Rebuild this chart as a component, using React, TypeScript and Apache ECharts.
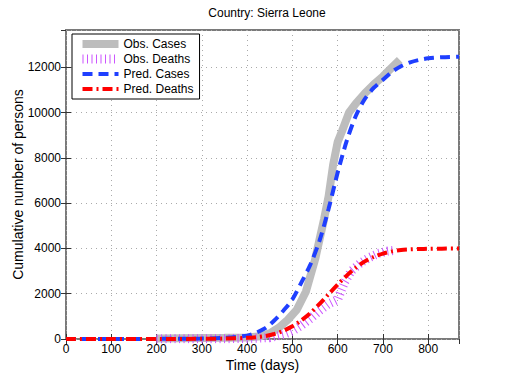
import React, { useEffect, useRef } from "react";
import * as echarts from "echarts";

const predDays = [0, 100, 200, 300, 350, 400, 420, 440, 460, 480, 500, 520, 540, 560, 580, 600, 620, 640, 660, 680, 700, 720, 740, 760, 780, 800, 830, 868];
const predCases = [0, 0, 5, 20, 50, 150, 280, 480, 820, 1250, 1750, 2500, 3300, 4350, 5750, 7350, 8750, 9850, 10600, 11100, 11450, 11800, 12050, 12220, 12330, 12400, 12450, 12470];
const predDeaths = [0, 0, 2, 8, 20, 50, 80, 130, 220, 360, 560, 830, 1150, 1550, 1980, 2400, 2800, 3150, 3430, 3630, 3770, 3870, 3930, 3960, 3975, 3985, 3992, 3995];

const obsCaseDays = [200, 250, 300, 350, 400, 430, 450, 470, 490, 510, 530, 550, 560, 570, 580, 590, 600, 610, 625, 640, 660, 680, 700, 720, 737];
const obsCases = [20, 30, 40, 50, 70, 120, 250, 500, 850, 1300, 2100, 3500, 4400, 5300, 6300, 7700, 8700, 9200, 10000, 10400, 10850, 11250, 11600, 12000, 12330];

const obsDeathDays = [200, 300, 400, 450, 480, 500, 520, 540, 560, 580, 590, 600, 605, 615, 630, 650, 670, 690, 710, 727];
const obsDeaths = [5, 10, 20, 60, 200, 350, 600, 900, 1250, 1550, 1650, 1750, 2000, 2500, 3000, 3350, 3600, 3780, 3880, 3920];

const xTicks = { min: 0, max: 868, interval: 100 };
const yTicks = { min: 0, max: 13650, interval: 2000 };

const pairs = (xs: number[], ys: number[]) => xs.map((x, i) => [x, ys[i]]);

const FONT = "'Liberation Sans', Arial, Helvetica, sans-serif";

const styles = {
  obsCases: { color: "#bdbdbd", width: 8, type: "solid" as any },
  obsDeaths: { color: "#cc55ff", width: 9, type: [1, 3.5] as any, cap: "butt" as any },
  predCases: { color: "#1f3fff", width: 4, type: [10, 6] as any },
  predDeaths: { color: "#ff0000", width: 4, type: [10, 4, 2, 4] as any },
};

export default function App() {
  const ref = useRef<HTMLDivElement>(null);
  useEffect(() => {
    if (!ref.current) return;
    const chart = echarts.init(ref.current, undefined, { renderer: "svg" });
    const split = { show: true, lineStyle: { color: "#aaa", type: [1, 4] as any, width: 1 } };
    const tick = { show: true, inside: true, length: 5, lineStyle: { color: "#333", width: 1 } };
    chart.setOption({
      animation: false,
      backgroundColor: "#fff",
      textStyle: { fontFamily: FONT },
      title: {
        text: "Country: Sierra Leone",
        left: 262,
        textAlign: "center",
        top: 2,
        textStyle: { fontSize: 12, fontWeight: "normal", color: "#000", fontFamily: FONT },
      },
      grid: {
        left: 66, top: 30, width: 393, height: 309,
        outerBoundsMode: "none", containLabel: false,
        show: true, borderColor: "#7a7a7a", borderWidth: 2, backgroundColor: "transparent",
      },
      legend: {
        left: 72, top: 34, orient: "vertical",
        backgroundColor: "#fff", borderColor: "#000", borderWidth: 1,
        padding: [4, 6, 4, 6], itemGap: 3, itemWidth: 36, itemHeight: 12,
        itemStyle: { opacity: 0 },
        textStyle: { fontSize: 12, color: "#000", fontFamily: FONT },
        data: [
          { name: "Obs. Cases", lineStyle: styles.obsCases },
          { name: "Obs. Deaths", lineStyle: styles.obsDeaths },
          { name: "Pred. Cases", lineStyle: styles.predCases },
          { name: "Pred. Deaths", lineStyle: styles.predDeaths },
        ],
      },
      xAxis: [
        {
          type: "value", min: xTicks.min, max: xTicks.max, interval: xTicks.interval,
          name: "Time (days)", nameLocation: "middle", nameGap: 19, nameMoveOverlap: false,
          nameTextStyle: { fontSize: 14, color: "#000", fontFamily: FONT },
          axisLine: { show: false }, axisTick: tick,
          axisLabel: { fontSize: 12, color: "#000", margin: 4, showMaxLabel: false, fontFamily: FONT },
          splitLine: split,
        },
        {
          type: "value", position: "top", min: xTicks.min, max: xTicks.max, interval: xTicks.interval,
          axisLine: { show: false }, axisTick: tick, axisLabel: { show: false }, splitLine: { show: false },
        },
      ],
      yAxis: [
        {
          type: "value", min: yTicks.min, max: yTicks.max, interval: yTicks.interval,
          name: "Cumulative number of persons", nameLocation: "middle", nameGap: 41, nameMoveOverlap: false,
          nameTextStyle: { fontSize: 14, color: "#000", fontFamily: FONT },
          axisLine: { show: false }, axisTick: tick,
          axisLabel: {
            fontSize: 12, color: "#000", margin: 5, showMaxLabel: false, fontFamily: FONT,
            formatter: (v: number) => String(v),
          },
          splitLine: split,
        },
        {
          type: "value", position: "right", min: yTicks.min, max: yTicks.max, interval: yTicks.interval,
          axisLine: { show: false }, axisTick: tick, axisLabel: { show: false }, splitLine: { show: false },
        },
      ],
      series: [
        {
          name: "Obs. Cases", type: "line", symbol: "none", data: pairs(obsCaseDays, obsCases),
          lineStyle: styles.obsCases, itemStyle: { color: styles.obsCases.color },
        },
        {
          name: "Obs. Deaths", type: "line", symbol: "none", data: pairs(obsDeathDays, obsDeaths),
          lineStyle: styles.obsDeaths, itemStyle: { color: styles.obsDeaths.color },
        },
        {
          name: "Pred. Cases", type: "line", symbol: "none", smooth: 0.3, data: pairs(predDays, predCases),
          lineStyle: styles.predCases, itemStyle: { color: styles.predCases.color },
        },
        {
          name: "Pred. Deaths", type: "line", symbol: "none", smooth: 0.3, data: pairs(predDays, predDeaths),
          lineStyle: styles.predDeaths, itemStyle: { color: styles.predDeaths.color },
        },
      ],
    });
    return () => chart.dispose();
  }, []);
  return <div ref={ref} style={{ width: 507, height: 382, position: "absolute", left: 0, top: 0 }} />;
}
